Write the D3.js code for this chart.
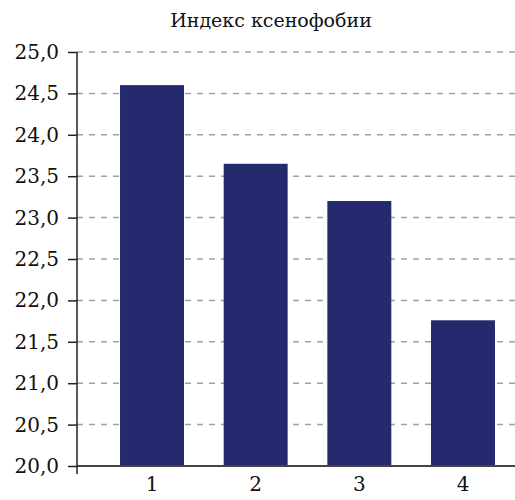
<!DOCTYPE html>
<html><head><meta charset="utf-8">
<script src="https://cdn.jsdelivr.net/npm/d3@7"></script>
<style>body{margin:0;background:#fff}svg{display:block}</style>
</head><body>
<svg id="c" width="515" height="500"></svg>
<script>
const title = "Индекс ксенофобии";
const categories = ["1", "2", "3", "4"];
const values = [24.6, 23.65, 23.2, 21.76];
const yTicks = [20, 20.5, 21, 21.5, 22, 22.5, 23, 23.5, 24, 24.5, 25];

const font = "'DejaVu Serif', serif";
const svg = d3.select("#c");
const x = d3.scaleBand().domain(categories).range([77, 538]).paddingInner(0.383).paddingOuter(0.415);
const y = d3.scaleLinear().domain([20, 25]).range([466, 52]);
const fmt = d => d3.format(".1f")(d).replace(".", ",");

// grid
svg.append("g").selectAll("line").data(yTicks.filter(d => d > 20)).join("line")
  .attr("x1", 77).attr("x2", 515).attr("y1", d => y(d)).attr("y2", d => y(d))
  .attr("stroke", "#a0a0a0").attr("stroke-width", 1.5).attr("stroke-dasharray", "6,6");

// bars
svg.append("g").selectAll("rect").data(values).join("rect")
  .attr("x", (d, i) => x(categories[i])).attr("width", x.bandwidth())
  .attr("y", d => y(d)).attr("height", d => y(20) - y(d))
  .attr("fill", "#252a6f");

// x axis
const xa = svg.append("g").attr("transform", `translate(0,${y(20)})`)
  .call(d3.axisBottom(x).tickSize(0).tickPadding(11));
xa.select(".domain").remove();
svg.append("line").attr("x1", 77).attr("x2", 515).attr("y1", y(20)).attr("y2", y(20))
  .attr("stroke", "#444").attr("stroke-width", 2);
xa.selectAll("text").attr("font-family", font).attr("font-size", 20).attr("fill", "#111");

// y axis
const ya = svg.append("g").attr("transform", "translate(77,0)")
  .call(d3.axisLeft(y).tickValues(yTicks).tickFormat(fmt).tickSize(9).tickPadding(9));
ya.select(".domain").remove();
ya.selectAll(".tick line").attr("stroke", "#222").attr("stroke-width", 1.5);
ya.selectAll("text").attr("font-family", font).attr("font-size", 20).attr("fill", "#111");
svg.append("line").attr("x1", 77).attr("x2", 77).attr("y1", y(25)).attr("y2", y(20) + 8)
  .attr("stroke", "#222").attr("stroke-width", 1.5);

// title
svg.append("text").attr("x", 271).attr("y", 27).attr("text-anchor", "middle")
  .attr("font-family", font).attr("font-size", 19).attr("fill", "#111").text(title);
</script>
</body></html>
